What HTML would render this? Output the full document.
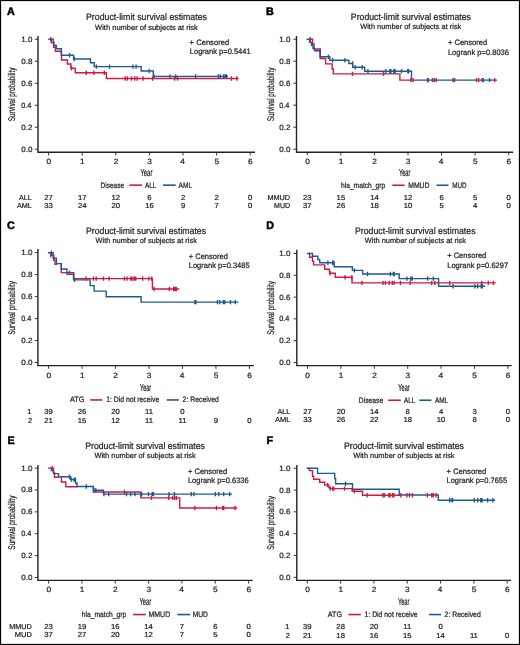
<!DOCTYPE html>
<html><head><meta charset="utf-8"><style>
html,body{margin:0;padding:0;background:#fff;}
svg{display:block;will-change:transform;}
text{text-rendering:geometricPrecision;font-family:"Liberation Sans",sans-serif;fill:#222;stroke:#222;stroke-width:0.22px;}
</style></head><body>
<svg width="520" height="645" viewBox="0 0 520 645">
<rect x="0" y="0" width="520" height="645" fill="#fff"/>
<path d="M38.00,36.00V152.30H255.00" fill="none" stroke="#222" stroke-width="1.4"/>
<path d="M34.80,149.20H38.00M34.80,127.22H38.00M34.80,105.24H38.00M34.80,83.26H38.00M34.80,61.28H38.00M34.80,39.30H38.00M48.60,152.30V155.50M82.20,152.30V155.50M115.80,152.30V155.50M149.40,152.30V155.50M183.00,152.30V155.50M216.60,152.30V155.50M250.20,152.30V155.50" fill="none" stroke="#222" stroke-width="0.9"/>
<path d="M129.30,185.15H142.00" stroke="#CC1A44" stroke-width="1.6"/>
<path d="M163.00,185.15H175.70" stroke="#1E5A91" stroke-width="1.6"/>
<path d="M51.40,42.90H53.60M53.60,47.30H55.40M55.40,51.30H61.50M61.50,60.00H67.40M67.40,64.00H70.90M70.90,68.30H75.20M75.20,72.70H106.40M106.40,78.50H237.90M51.40,39.20V42.90M53.60,42.90V47.30M55.40,47.30V51.30M61.50,51.30V60.00M67.40,60.00V64.00M70.90,64.00V68.30M75.20,68.30V72.70M106.40,72.70V78.50" fill="none" stroke="#CC1A44" stroke-width="1.4" stroke-linecap="square"/>
<path d="M48.90,39.20H53.30M53.30,42.20H53.90M53.90,45.50H56.40M56.40,48.80H61.30M61.30,55.30H73.60M73.60,59.00H90.50M90.50,62.70H94.20M94.20,66.60H141.20M141.20,71.00H153.30M153.30,76.40H227.30M53.30,39.20V42.20M53.90,42.20V45.50M56.40,45.50V48.80M61.30,48.80V55.30M73.60,55.30V59.00M90.50,59.00V62.70M94.20,62.70V66.60M141.20,66.60V71.00M153.30,71.00V76.40" fill="none" stroke="#1E5A91" stroke-width="1.4" stroke-linecap="square"/>
<path d="M296.50,36.00V152.20H513.10" fill="none" stroke="#222" stroke-width="1.4"/>
<path d="M293.30,149.20H296.50M293.30,127.20H296.50M293.30,105.20H296.50M293.30,83.20H296.50M293.30,61.20H296.50M293.30,39.20H296.50M307.30,152.20V155.40M340.87,152.20V155.40M374.43,152.20V155.40M408.00,152.20V155.40M441.57,152.20V155.40M475.13,152.20V155.40M508.70,152.20V155.40" fill="none" stroke="#222" stroke-width="0.9"/>
<path d="M392.30,185.25H404.60" stroke="#CC1A44" stroke-width="1.6"/>
<path d="M436.60,185.25H448.50" stroke="#1E5A91" stroke-width="1.6"/>
<path d="M309.50,39.20H312.60M312.60,44.00H314.00M314.00,49.00H320.30M320.30,58.50H325.60M325.60,63.90H332.20M332.20,69.00H333.30M333.30,73.90H399.90M399.90,80.10H411.50M490.80,80.10H496.40M312.60,39.20V44.00M314.00,44.00V49.00M320.30,49.00V58.50M325.60,58.50V63.90M332.20,63.90V69.00M333.30,69.00V73.90M399.90,73.90V80.10" fill="none" stroke="#CC1A44" stroke-width="1.4" stroke-linecap="square"/>
<path d="M307.30,39.20H309.50M309.50,42.20H311.50M311.50,45.20H313.00M313.00,48.20H314.50M314.50,50.80H320.00M320.00,56.80H329.80M329.80,60.30H348.80M348.80,63.50H352.70M352.70,67.20H364.70M364.70,71.30H411.50M411.50,80.10H490.80M309.50,39.20V42.20M311.50,42.20V45.20M313.00,45.20V48.20M314.50,48.20V50.80M320.00,50.80V56.80M329.80,56.80V60.30M348.80,60.30V63.50M352.70,63.50V67.20M364.70,67.20V71.30M411.50,71.30V80.10" fill="none" stroke="#1E5A91" stroke-width="1.4" stroke-linecap="square"/>
<path d="M37.90,249.10V365.60H253.80" fill="none" stroke="#222" stroke-width="1.4"/>
<path d="M34.70,362.50H37.90M34.70,340.54H37.90M34.70,318.58H37.90M34.70,296.62H37.90M34.70,274.66H37.90M34.70,252.70H37.90M48.60,365.60V368.80M82.07,365.60V368.80M115.53,365.60V368.80M149.00,365.60V368.80M182.47,365.60V368.80M215.93,365.60V368.80M249.40,365.60V368.80" fill="none" stroke="#222" stroke-width="0.9"/>
<path d="M90.20,399.95H102.30" stroke="#CC1A44" stroke-width="1.6"/>
<path d="M166.90,399.95H178.90" stroke="#1E5A91" stroke-width="1.6"/>
<path d="M50.80,255.30H53.80M53.80,260.30H55.00M55.00,264.20H56.40M61.30,272.60H73.80M73.80,278.60H152.40M152.40,289.00H178.70M50.80,252.70V255.30M53.80,255.30V260.30M55.00,260.30V264.20M61.30,264.20V272.60M73.80,272.60V278.60M152.40,278.60V289.00" fill="none" stroke="#CC1A44" stroke-width="1.4" stroke-linecap="square"/>
<path d="M48.60,252.70H53.10M53.10,258.20H56.40M56.40,263.60H61.30M61.30,269.00H66.90M66.90,274.30H73.50M73.50,279.90H90.10M90.10,285.60H94.10M94.10,291.10H106.20M106.20,296.70H141.10M141.10,302.10H237.60M53.10,252.70V258.20M56.40,258.20V263.60M61.30,263.60V269.00M66.90,269.00V274.30M73.50,274.30V279.90M90.10,279.90V285.60M94.10,285.60V291.10M106.20,291.10V296.70M141.10,296.70V302.10" fill="none" stroke="#1E5A91" stroke-width="1.4" stroke-linecap="square"/>
<path d="M296.80,249.80V365.60H511.50" fill="none" stroke="#222" stroke-width="1.4"/>
<path d="M293.60,362.50H296.80M293.60,340.70H296.80M293.60,318.90H296.80M293.60,297.10H296.80M293.60,275.30H296.80M293.60,253.50H296.80M307.50,365.60V368.80M340.90,365.60V368.80M374.30,365.60V368.80M407.70,365.60V368.80M441.10,365.60V368.80M474.50,365.60V368.80M507.90,365.60V368.80" fill="none" stroke="#222" stroke-width="0.9"/>
<path d="M388.20,400.25H400.80" stroke="#CC1A44" stroke-width="1.6"/>
<path d="M419.30,400.25H431.40" stroke="#1E5A91" stroke-width="1.6"/>
<path d="M309.60,257.30H312.50M312.50,261.20H313.60M313.60,264.90H324.70M324.70,269.30H329.50M329.50,273.30H335.30M335.30,277.20H352.00M352.00,282.90H495.00M309.60,253.50V257.30M312.50,257.30V261.20M313.60,261.20V264.90M324.70,264.90V269.30M329.50,269.30V273.30M335.30,273.30V277.20M352.00,277.20V282.90" fill="none" stroke="#CC1A44" stroke-width="1.4" stroke-linecap="square"/>
<path d="M307.50,253.50H312.50M312.50,256.30H317.80M317.80,259.50H319.70M319.70,262.80H334.20M334.20,266.80H352.40M352.40,270.40H362.70M362.70,274.00H399.20M399.20,278.60H438.60M438.60,286.30H484.40M312.50,253.50V256.30M317.80,256.30V259.50M319.70,259.50V262.80M334.20,262.80V266.80M352.40,266.80V270.40M362.70,270.40V274.00M399.20,274.00V278.60M438.60,278.60V286.30" fill="none" stroke="#1E5A91" stroke-width="1.4" stroke-linecap="square"/>
<path d="M37.90,465.00V580.40H252.70" fill="none" stroke="#222" stroke-width="1.4"/>
<path d="M34.70,577.50H37.90M34.70,555.62H37.90M34.70,533.74H37.90M34.70,511.86H37.90M34.70,489.98H37.90M34.70,468.10H37.90M48.60,580.40V583.60M81.93,580.40V583.60M115.27,580.40V583.60M148.60,580.40V583.60M181.93,580.40V583.60M215.27,580.40V583.60M248.60,580.40V583.60" fill="none" stroke="#222" stroke-width="0.9"/>
<path d="M133.10,614.55H145.80" stroke="#CC1A44" stroke-width="1.6"/>
<path d="M177.40,614.55H190.10" stroke="#1E5A91" stroke-width="1.6"/>
<path d="M51.30,468.10H53.50M53.50,472.70H54.50M54.50,477.30H58.50M61.40,482.00H65.80M65.80,486.80H77.00M93.40,492.00H140.80M140.80,497.90H179.70M179.70,508.00H236.60M53.50,468.10V472.70M54.50,472.70V477.30M61.40,477.30V482.00M65.80,482.00V486.80M93.40,486.80V492.00M140.80,492.00V497.90M179.70,497.90V508.00" fill="none" stroke="#CC1A44" stroke-width="1.4" stroke-linecap="square"/>
<path d="M48.60,468.10H51.30M51.30,470.60H53.50M53.50,473.60H58.50M58.50,476.80H70.50M70.50,479.60H75.60M75.60,483.30H77.00M77.00,486.50H93.40M93.40,490.30H103.50M103.50,494.10H231.30M51.30,468.10V470.60M53.50,470.60V473.60M58.50,473.60V476.80M70.50,476.80V479.60M75.60,479.60V483.30M77.00,483.30V486.50M93.40,486.50V490.30M103.50,490.30V494.10" fill="none" stroke="#1E5A91" stroke-width="1.4" stroke-linecap="square"/>
<path d="M296.80,465.00V580.40H511.00" fill="none" stroke="#222" stroke-width="1.4"/>
<path d="M293.60,577.30H296.80M293.60,555.48H296.80M293.60,533.66H296.80M293.60,511.84H296.80M293.60,490.02H296.80M293.60,468.20H296.80M307.30,580.40V583.60M340.62,580.40V583.60M373.93,580.40V583.60M407.25,580.40V583.60M440.57,580.40V583.60M473.88,580.40V583.60M507.20,580.40V583.60" fill="none" stroke="#222" stroke-width="0.9"/>
<path d="M348.50,614.55H360.70" stroke="#CC1A44" stroke-width="1.6"/>
<path d="M429.10,614.55H441.20" stroke="#1E5A91" stroke-width="1.6"/>
<path d="M309.30,470.60H312.50M312.50,476.20H313.60M313.60,479.30H319.70M319.70,482.20H324.70M324.70,485.10H328.90M328.90,487.80H330.30M330.30,488.60H352.20M352.20,491.20H362.50M362.50,495.20H399.20M309.30,468.20V470.60M312.50,470.60V476.20M313.60,476.20V479.30M319.70,479.30V482.20M324.70,482.20V485.10M328.90,485.10V487.80M330.30,487.80V488.60M352.20,488.60V491.20M362.50,491.20V495.20" fill="none" stroke="#CC1A44" stroke-width="1.4" stroke-linecap="square"/>
<path d="M307.30,468.20H317.60M317.60,473.40H334.70M334.70,478.60H335.60M335.60,483.70H352.50M352.50,489.20H399.20M399.20,495.00H438.30M438.30,500.20H494.40M317.60,468.20V473.40M334.70,473.40V478.60M335.60,478.60V483.70M352.50,483.70V489.20M399.20,489.20V495.00M438.30,495.00V500.20" fill="none" stroke="#1E5A91" stroke-width="1.4" stroke-linecap="square"/>
<path d="M50.80,37.00V41.40M71.50,66.10V70.50M86.30,70.50V74.90M93.90,70.50V74.90M104.30,70.50V74.90M125.20,76.30V80.70M127.30,76.30V80.70M131.50,76.30V80.70M134.70,76.30V80.70M137.10,76.30V80.70M143.10,76.30V80.70M152.60,76.30V80.70M174.60,76.30V80.70M177.60,76.30V80.70M231.50,76.30V80.70M236.80,76.30V80.70" fill="none" stroke="#CC1A44" stroke-width="1.35"/>
<path d="M69.60,53.10V57.50M74.30,56.80V61.20M96.30,64.40V68.80M109.50,64.40V68.80M132.90,64.40V68.80M136.10,64.40V68.80M149.20,68.80V73.20M154.00,74.20V78.60M169.90,74.20V78.60M175.70,74.20V78.60M195.60,74.20V78.60M218.30,74.20V78.60M220.40,74.20V78.60M223.60,74.20V78.60M225.20,74.20V78.60M226.50,74.20V78.60" fill="none" stroke="#1E5A91" stroke-width="1.35"/>
<path d="M310.30,37.00V41.40M352.50,71.70V76.10M383.50,71.70V76.10M411.00,77.90V82.30M413.10,77.90V82.30M427.60,77.90V82.30M432.40,77.90V82.30M436.10,77.90V82.30M453.00,77.90V82.30M476.50,77.90V82.30M478.70,77.90V82.30M482.10,77.90V82.30M494.70,77.90V82.30" fill="none" stroke="#CC1A44" stroke-width="1.35"/>
<path d="M328.40,54.60V59.00M332.60,58.10V62.50M344.90,58.10V62.50M352.60,61.30V65.70M355.20,65.00V69.40M362.20,65.00V69.40M367.90,69.10V73.50M385.60,69.10V73.50M389.80,69.10V73.50M390.90,69.10V73.50M393.80,69.10V73.50M395.10,69.10V73.50M401.50,69.10V73.50M407.80,69.10V73.50M408.70,69.10V73.50M428.40,77.90V82.30M434.30,77.90V82.30M454.60,77.90V82.30M483.40,77.90V82.30M489.50,77.90V82.30" fill="none" stroke="#1E5A91" stroke-width="1.35"/>
<path d="M50.80,253.10V257.50M69.50,270.40V274.80M86.00,276.40V280.80M93.50,276.40V280.80M96.20,276.40V280.80M103.50,276.40V280.80M109.10,276.40V280.80M124.40,276.40V280.80M127.10,276.40V280.80M130.80,276.40V280.80M132.10,276.40V280.80M134.00,276.40V280.80M134.80,276.40V280.80M135.80,276.40V280.80M142.70,276.40V280.80M148.80,276.40V280.80M151.70,276.40V280.80M154.10,286.80V291.20M169.40,286.80V291.20M173.60,286.80V291.20M175.00,286.80V291.20M176.30,286.80V291.20" fill="none" stroke="#CC1A44" stroke-width="1.35"/>
<path d="M51.50,250.50V254.90M74.60,277.70V282.10M194.80,299.90V304.30M195.90,299.90V304.30M217.40,299.90V304.30M219.70,299.90V304.30M223.30,299.90V304.30M224.70,299.90V304.30M230.50,299.90V304.30M235.20,299.90V304.30" fill="none" stroke="#1E5A91" stroke-width="1.35"/>
<path d="M330.00,271.10V275.50M345.10,275.00V279.40M351.90,275.00V279.40M361.90,280.70V285.10M383.00,280.70V285.10M385.40,280.70V285.10M389.20,280.70V285.10M392.30,280.70V285.10M394.20,280.70V285.10M400.50,280.70V285.10M410.10,280.70V285.10M431.70,280.70V285.10M434.90,280.70V285.10M449.70,280.70V285.10M481.70,280.70V285.10M488.30,280.70V285.10M493.40,280.70V285.10" fill="none" stroke="#CC1A44" stroke-width="1.35"/>
<path d="M327.90,260.60V265.00M332.60,260.60V265.00M333.70,260.60V265.00M354.40,268.20V272.60M367.50,271.80V276.20M390.40,271.80V276.20M393.40,271.80V276.20M394.20,271.80V276.20M406.90,276.40V280.80M410.80,276.40V280.80M412.20,276.40V280.80M427.70,276.40V280.80M433.30,276.40V280.80M453.00,284.10V288.50M474.90,284.10V288.50M477.70,284.10V288.50M481.20,284.10V288.50M482.30,284.10V288.50" fill="none" stroke="#1E5A91" stroke-width="1.35"/>
<path d="M52.20,465.90V470.30M124.40,489.80V494.20M151.40,495.70V500.10M168.60,495.70V500.10M172.80,495.70V500.10M174.70,495.70V500.10M176.50,495.70V500.10M194.80,505.80V510.20M216.50,505.80V510.20M222.60,505.80V510.20M223.70,505.80V510.20M235.00,505.80V510.20" fill="none" stroke="#CC1A44" stroke-width="1.35"/>
<path d="M69.50,474.60V479.00M71.50,477.40V481.80M74.10,477.40V481.80M75.30,477.40V481.80M86.30,484.30V488.70M93.80,488.10V492.50M95.80,488.10V492.50M103.90,491.90V496.30M108.80,491.90V496.30M126.50,491.90V496.30M130.70,491.90V496.30M135.00,491.90V496.30M141.60,491.90V496.30M148.50,491.90V496.30M152.20,491.90V496.30M153.50,491.90V496.30M169.10,491.90V496.30M174.40,491.90V496.30M191.30,491.90V496.30M194.00,491.90V496.30M215.40,491.90V496.30M218.80,491.90V496.30M223.70,491.90V496.30M229.70,491.90V496.30" fill="none" stroke="#1E5A91" stroke-width="1.35"/>
<path d="M327.60,482.90V487.30M330.30,486.40V490.80M332.80,486.40V490.80M333.80,486.40V490.80M344.50,486.40V490.80M354.40,489.00V493.40M367.10,493.00V497.40M382.80,493.00V497.40M384.40,493.00V497.40M388.90,493.00V497.40M390.00,493.00V497.40M392.50,493.00V497.40M393.90,493.00V497.40M400.80,493.00V497.40M406.90,493.00V497.40M409.50,493.00V497.40M412.50,493.00V497.40M427.30,493.00V497.40M431.70,493.00V497.40M433.30,493.00V497.40M436.00,493.00V497.40" fill="none" stroke="#CC1A44" stroke-width="1.35"/>
<path d="M345.50,481.50V485.90M449.70,498.00V502.40M451.90,498.00V502.40M452.60,498.00V502.40M474.30,498.00V502.40M477.70,498.00V502.40M480.70,498.00V502.40M482.00,498.00V502.40M487.60,498.00V502.40M492.90,498.00V502.40" fill="none" stroke="#1E5A91" stroke-width="1.35"/>
<text transform="translate(7.00,14.60)" font-size="10.76" font-weight="bold" style="fill:#000;stroke:#000;stroke-width:0.5px">A</text>
<text transform="translate(86.00,20.20) scale(0.9299,1)" font-size="9.45">Product-limit survival estimates</text>
<text transform="translate(95.10,29.50) scale(0.9961,1)" font-size="7.56">With number of subjects at risk</text>
<text transform="translate(189.60,44.60) scale(0.9701,1)" font-size="7.85">+ Censored</text>
<text transform="translate(189.80,54.30) scale(0.9589,1)" font-size="7.85">Logrank p=0.5441</text>
<text transform="translate(14.80,0) rotate(-90) translate(-121.15,0) scale(0.6562,1)" font-size="9.74">Survival probability</text>
<text transform="translate(21.20,151.70) scale(1.0469,1)" font-size="7.7">0.0</text>
<text transform="translate(21.20,129.72) scale(1.0469,1)" font-size="7.7">0.2</text>
<text transform="translate(21.20,107.74) scale(0.9552,1)" font-size="7.7">0.4</text>
<text transform="translate(21.20,85.76) scale(1.0469,1)" font-size="7.7">0.6</text>
<text transform="translate(21.20,63.78) scale(1.0469,1)" font-size="7.7">0.8</text>
<text transform="translate(21.20,41.80) scale(1.0469,1)" font-size="7.7">1.0</text>
<text transform="translate(46.44,163.80) scale(1.0800,1)" font-size="7.7">0</text>
<text transform="translate(80.04,163.80) scale(1.0800,1)" font-size="7.7">1</text>
<text transform="translate(113.64,163.80) scale(1.0800,1)" font-size="7.7">2</text>
<text transform="translate(147.24,163.80) scale(1.0800,1)" font-size="7.7">3</text>
<text transform="translate(180.30,163.80) scale(1.0800,1)" font-size="7.7">4</text>
<text transform="translate(214.44,163.80) scale(1.0800,1)" font-size="7.7">5</text>
<text transform="translate(248.04,163.80) scale(1.0800,1)" font-size="7.7">6</text>
<text transform="translate(140.50,175.60) scale(0.5801,1)" font-size="10.1">Year</text>
<text transform="translate(100.60,187.50) scale(0.8248,1)" font-size="7.85">Disease</text>
<text transform="translate(145.10,187.50) scale(0.8085,1)" font-size="7.85">ALL</text>
<text transform="translate(178.60,187.50) scale(0.8350,1)" font-size="7.85">AML</text>
<text transform="translate(19.00,199.90) scale(0.9855,1)" font-size="7.27">ALL</text>
<text transform="translate(44.34,199.90) scale(1.0600,1)" font-size="7.27">27</text>
<text transform="translate(77.94,199.90) scale(1.0600,1)" font-size="7.27">17</text>
<text transform="translate(111.54,199.90) scale(1.0600,1)" font-size="7.27">12</text>
<text transform="translate(147.28,199.90) scale(1.0600,1)" font-size="7.27">6</text>
<text transform="translate(180.88,199.90) scale(1.0600,1)" font-size="7.27">2</text>
<text transform="translate(214.48,199.90) scale(1.0600,1)" font-size="7.27">2</text>
<text transform="translate(248.08,199.90) scale(1.0600,1)" font-size="7.27">0</text>
<text transform="translate(16.90,207.90) scale(0.9934,1)" font-size="7.27">AML</text>
<text transform="translate(44.34,207.90) scale(1.0600,1)" font-size="7.27">33</text>
<text transform="translate(77.94,207.90) scale(1.0600,1)" font-size="7.27">24</text>
<text transform="translate(111.54,207.90) scale(1.0600,1)" font-size="7.27">20</text>
<text transform="translate(145.14,207.90) scale(1.0600,1)" font-size="7.27">16</text>
<text transform="translate(180.88,207.90) scale(1.0600,1)" font-size="7.27">9</text>
<text transform="translate(214.48,207.90) scale(1.0600,1)" font-size="7.27">7</text>
<text transform="translate(248.08,207.90) scale(1.0600,1)" font-size="7.27">0</text>
<text transform="translate(266.00,15.00)" font-size="10.76" font-weight="bold" style="fill:#000;stroke:#000;stroke-width:0.5px">B</text>
<text transform="translate(350.85,20.00) scale(0.9230,1)" font-size="9.45">Product-limit survival estimates</text>
<text transform="translate(360.20,29.20) scale(0.9797,1)" font-size="7.56">With number of subjects at risk</text>
<text transform="translate(447.90,44.80) scale(0.9652,1)" font-size="7.85">+ Censored</text>
<text transform="translate(447.90,54.50) scale(0.9626,1)" font-size="7.85">Logrank p=0.8036</text>
<text transform="translate(274.10,0) rotate(-90) translate(-121.15,0) scale(0.6562,1)" font-size="9.74">Survival probability</text>
<text transform="translate(279.20,151.70) scale(1.0469,1)" font-size="7.7">0.0</text>
<text transform="translate(279.20,129.70) scale(1.0469,1)" font-size="7.7">0.2</text>
<text transform="translate(279.20,107.70) scale(0.9552,1)" font-size="7.7">0.4</text>
<text transform="translate(279.20,85.70) scale(1.0469,1)" font-size="7.7">0.6</text>
<text transform="translate(279.20,63.70) scale(1.0469,1)" font-size="7.7">0.8</text>
<text transform="translate(279.20,41.70) scale(1.0469,1)" font-size="7.7">1.0</text>
<text transform="translate(305.14,163.70) scale(1.0800,1)" font-size="7.7">0</text>
<text transform="translate(338.71,163.70) scale(1.0800,1)" font-size="7.7">1</text>
<text transform="translate(372.27,163.70) scale(1.0800,1)" font-size="7.7">2</text>
<text transform="translate(405.84,163.70) scale(1.0800,1)" font-size="7.7">3</text>
<text transform="translate(438.87,163.70) scale(1.0800,1)" font-size="7.7">4</text>
<text transform="translate(472.97,163.70) scale(1.0800,1)" font-size="7.7">5</text>
<text transform="translate(506.54,163.70) scale(1.0800,1)" font-size="7.7">6</text>
<text transform="translate(398.90,175.50) scale(0.5658,1)" font-size="10.1">Year</text>
<text transform="translate(341.00,187.60) scale(0.8510,1)" font-size="7.85">hla_match_grp</text>
<text transform="translate(408.20,187.60) scale(0.8693,1)" font-size="7.85">MMUD</text>
<text transform="translate(452.30,187.60) scale(0.8023,1)" font-size="7.85">MUD</text>
<text transform="translate(267.40,199.50) scale(1.0066,1)" font-size="7.27">MMUD</text>
<text transform="translate(303.04,199.50) scale(1.0600,1)" font-size="7.27">23</text>
<text transform="translate(336.61,199.50) scale(1.0600,1)" font-size="7.27">15</text>
<text transform="translate(370.17,199.50) scale(1.0600,1)" font-size="7.27">14</text>
<text transform="translate(403.74,199.50) scale(1.0600,1)" font-size="7.27">12</text>
<text transform="translate(439.45,199.50) scale(1.0600,1)" font-size="7.27">6</text>
<text transform="translate(473.01,199.50) scale(1.0600,1)" font-size="7.27">5</text>
<text transform="translate(506.58,199.50) scale(1.0600,1)" font-size="7.27">0</text>
<text transform="translate(274.10,207.60) scale(0.9694,1)" font-size="7.27">MUD</text>
<text transform="translate(303.04,207.60) scale(1.0600,1)" font-size="7.27">37</text>
<text transform="translate(336.61,207.60) scale(1.0600,1)" font-size="7.27">26</text>
<text transform="translate(370.17,207.60) scale(1.0600,1)" font-size="7.27">18</text>
<text transform="translate(403.74,207.60) scale(1.0600,1)" font-size="7.27">10</text>
<text transform="translate(439.45,207.60) scale(1.0600,1)" font-size="7.27">5</text>
<text transform="translate(473.01,207.60) scale(1.0600,1)" font-size="7.27">4</text>
<text transform="translate(506.58,207.60) scale(1.0600,1)" font-size="7.27">0</text>
<text transform="translate(7.00,228.50)" font-size="10.76" font-weight="bold" style="fill:#000;stroke:#000;stroke-width:0.5px">C</text>
<text transform="translate(86.00,234.10) scale(0.9230,1)" font-size="9.45">Product-limit survival estimates</text>
<text transform="translate(95.60,243.10) scale(0.9816,1)" font-size="7.56">With number of subjects at risk</text>
<text transform="translate(188.70,258.50) scale(0.9627,1)" font-size="7.85">+ Censored</text>
<text transform="translate(188.70,267.80) scale(0.9611,1)" font-size="7.85">Logrank p=0.3485</text>
<text transform="translate(14.80,0) rotate(-90) translate(-334.70,0) scale(0.6562,1)" font-size="9.74">Survival probability</text>
<text transform="translate(21.20,365.00) scale(1.0469,1)" font-size="7.7">0.0</text>
<text transform="translate(21.20,343.04) scale(1.0469,1)" font-size="7.7">0.2</text>
<text transform="translate(21.20,321.08) scale(0.9552,1)" font-size="7.7">0.4</text>
<text transform="translate(21.20,299.12) scale(1.0469,1)" font-size="7.7">0.6</text>
<text transform="translate(21.20,277.16) scale(1.0469,1)" font-size="7.7">0.8</text>
<text transform="translate(21.20,255.20) scale(1.0469,1)" font-size="7.7">1.0</text>
<text transform="translate(46.44,377.80) scale(1.0800,1)" font-size="7.7">0</text>
<text transform="translate(79.91,377.80) scale(1.0800,1)" font-size="7.7">1</text>
<text transform="translate(113.37,377.80) scale(1.0800,1)" font-size="7.7">2</text>
<text transform="translate(146.84,377.80) scale(1.0800,1)" font-size="7.7">3</text>
<text transform="translate(179.77,377.80) scale(1.0800,1)" font-size="7.7">4</text>
<text transform="translate(213.77,377.80) scale(1.0800,1)" font-size="7.7">5</text>
<text transform="translate(247.24,377.80) scale(1.0800,1)" font-size="7.7">6</text>
<text transform="translate(140.00,390.80) scale(0.5468,1)" font-size="10.1">Year</text>
<text transform="translate(70.00,402.30) scale(0.9326,1)" font-size="7.85">ATG</text>
<text transform="translate(106.20,402.30) scale(0.8691,1)" font-size="7.85">1: Did not receive</text>
<text transform="translate(182.60,402.30) scale(0.8744,1)" font-size="7.85">2: Received</text>
<text transform="translate(27.30,414.40)" font-size="7.27">1</text>
<text transform="translate(44.34,414.40) scale(1.0600,1)" font-size="7.27">39</text>
<text transform="translate(77.81,414.40) scale(1.0600,1)" font-size="7.27">26</text>
<text transform="translate(111.27,414.40) scale(1.0600,1)" font-size="7.27">20</text>
<text transform="translate(145.02,414.40) scale(1.0600,1)" font-size="7.27">11</text>
<text transform="translate(180.35,414.40) scale(1.0600,1)" font-size="7.27">0</text>
<text transform="translate(27.90,422.70)" font-size="7.27">2</text>
<text transform="translate(44.34,422.70) scale(1.0600,1)" font-size="7.27">21</text>
<text transform="translate(77.81,422.70) scale(1.0600,1)" font-size="7.27">15</text>
<text transform="translate(111.27,422.70) scale(1.0600,1)" font-size="7.27">12</text>
<text transform="translate(145.02,422.70) scale(1.0600,1)" font-size="7.27">11</text>
<text transform="translate(178.49,422.70) scale(1.0600,1)" font-size="7.27">11</text>
<text transform="translate(213.81,422.70) scale(1.0600,1)" font-size="7.27">9</text>
<text transform="translate(247.28,422.70) scale(1.0600,1)" font-size="7.27">0</text>
<text transform="translate(266.20,228.50)" font-size="10.76" font-weight="bold" style="fill:#000;stroke:#000;stroke-width:0.5px">D</text>
<text transform="translate(355.00,234.10) scale(0.9268,1)" font-size="9.45">Product-limit survival estimates</text>
<text transform="translate(364.80,243.10) scale(0.9806,1)" font-size="7.56">With number of subjects at risk</text>
<text transform="translate(447.20,258.40) scale(0.9577,1)" font-size="7.85">+ Censored</text>
<text transform="translate(447.20,267.50) scale(0.9604,1)" font-size="7.85">Logrank p=0.6297</text>
<text transform="translate(274.10,0) rotate(-90) translate(-334.70,0) scale(0.6562,1)" font-size="9.74">Survival probability</text>
<text transform="translate(279.20,365.00) scale(1.0469,1)" font-size="7.7">0.0</text>
<text transform="translate(279.20,343.20) scale(1.0469,1)" font-size="7.7">0.2</text>
<text transform="translate(279.20,321.40) scale(0.9552,1)" font-size="7.7">0.4</text>
<text transform="translate(279.20,299.60) scale(1.0469,1)" font-size="7.7">0.6</text>
<text transform="translate(279.20,277.80) scale(1.0469,1)" font-size="7.7">0.8</text>
<text transform="translate(279.20,256.00) scale(1.0469,1)" font-size="7.7">1.0</text>
<text transform="translate(305.34,377.80) scale(1.0800,1)" font-size="7.7">0</text>
<text transform="translate(338.74,377.80) scale(1.0800,1)" font-size="7.7">1</text>
<text transform="translate(372.14,377.80) scale(1.0800,1)" font-size="7.7">2</text>
<text transform="translate(405.54,377.80) scale(1.0800,1)" font-size="7.7">3</text>
<text transform="translate(438.40,377.80) scale(1.0800,1)" font-size="7.7">4</text>
<text transform="translate(472.34,377.80) scale(1.0800,1)" font-size="7.7">5</text>
<text transform="translate(505.74,377.80) scale(1.0800,1)" font-size="7.7">6</text>
<text transform="translate(398.20,390.80) scale(0.5658,1)" font-size="10.1">Year</text>
<text transform="translate(358.80,402.60) scale(0.8593,1)" font-size="7.85">Disease</text>
<text transform="translate(404.10,402.60) scale(0.8017,1)" font-size="7.85">ALL</text>
<text transform="translate(434.90,402.60) scale(0.8231,1)" font-size="7.85">AML</text>
<text transform="translate(277.50,414.10) scale(0.9933,1)" font-size="7.27">ALL</text>
<text transform="translate(303.24,414.10) scale(1.0600,1)" font-size="7.27">27</text>
<text transform="translate(336.64,414.10) scale(1.0600,1)" font-size="7.27">20</text>
<text transform="translate(370.04,414.10) scale(1.0600,1)" font-size="7.27">14</text>
<text transform="translate(405.58,414.10) scale(1.0600,1)" font-size="7.27">8</text>
<text transform="translate(438.98,414.10) scale(1.0600,1)" font-size="7.27">4</text>
<text transform="translate(472.38,414.10) scale(1.0600,1)" font-size="7.27">3</text>
<text transform="translate(505.78,414.10) scale(1.0600,1)" font-size="7.27">0</text>
<text transform="translate(275.10,422.20) scale(1.0202,1)" font-size="7.27">AML</text>
<text transform="translate(303.24,422.20) scale(1.0600,1)" font-size="7.27">33</text>
<text transform="translate(336.64,422.20) scale(1.0600,1)" font-size="7.27">26</text>
<text transform="translate(370.04,422.20) scale(1.0600,1)" font-size="7.27">22</text>
<text transform="translate(403.44,422.20) scale(1.0600,1)" font-size="7.27">18</text>
<text transform="translate(436.84,422.20) scale(1.0600,1)" font-size="7.27">10</text>
<text transform="translate(472.38,422.20) scale(1.0600,1)" font-size="7.27">8</text>
<text transform="translate(505.78,422.20) scale(1.0600,1)" font-size="7.27">0</text>
<text transform="translate(7.60,443.80)" font-size="10.76" font-weight="bold" style="fill:#000;stroke:#000;stroke-width:0.5px">E</text>
<text transform="translate(85.20,449.10) scale(0.9207,1)" font-size="9.45">Product-limit survival estimates</text>
<text transform="translate(94.40,458.10) scale(0.9826,1)" font-size="7.56">With number of subjects at risk</text>
<text transform="translate(187.90,473.50) scale(0.9652,1)" font-size="7.85">+ Censored</text>
<text transform="translate(187.90,482.80) scale(0.9579,1)" font-size="7.85">Logrank p=0.6336</text>
<text transform="translate(14.80,0) rotate(-90) translate(-549.65,0) scale(0.6611,1)" font-size="9.74">Survival probability</text>
<text transform="translate(21.20,580.00) scale(1.0469,1)" font-size="7.7">0.0</text>
<text transform="translate(21.20,558.12) scale(1.0469,1)" font-size="7.7">0.2</text>
<text transform="translate(21.20,536.24) scale(0.9552,1)" font-size="7.7">0.4</text>
<text transform="translate(21.20,514.36) scale(1.0469,1)" font-size="7.7">0.6</text>
<text transform="translate(21.20,492.48) scale(1.0469,1)" font-size="7.7">0.8</text>
<text transform="translate(21.20,470.60) scale(1.0469,1)" font-size="7.7">1.0</text>
<text transform="translate(46.44,592.00) scale(1.0800,1)" font-size="7.7">0</text>
<text transform="translate(79.77,592.00) scale(1.0800,1)" font-size="7.7">1</text>
<text transform="translate(113.11,592.00) scale(1.0800,1)" font-size="7.7">2</text>
<text transform="translate(146.44,592.00) scale(1.0800,1)" font-size="7.7">3</text>
<text transform="translate(179.23,592.00) scale(1.0800,1)" font-size="7.7">4</text>
<text transform="translate(213.11,592.00) scale(1.0800,1)" font-size="7.7">5</text>
<text transform="translate(246.44,592.00) scale(1.0800,1)" font-size="7.7">6</text>
<text transform="translate(139.40,604.80) scale(0.5753,1)" font-size="10.1">Year</text>
<text transform="translate(81.80,616.90) scale(0.8548,1)" font-size="7.85">hla_match_grp</text>
<text transform="translate(148.50,616.90) scale(0.8895,1)" font-size="7.85">MMUD</text>
<text transform="translate(192.70,616.90) scale(0.8517,1)" font-size="7.85">MUD</text>
<text transform="translate(9.20,629.10) scale(1.0022,1)" font-size="7.27">MMUD</text>
<text transform="translate(44.34,629.10) scale(1.0600,1)" font-size="7.27">23</text>
<text transform="translate(77.67,629.10) scale(1.0600,1)" font-size="7.27">19</text>
<text transform="translate(111.01,629.10) scale(1.0600,1)" font-size="7.27">16</text>
<text transform="translate(144.34,629.10) scale(1.0600,1)" font-size="7.27">14</text>
<text transform="translate(179.81,629.10) scale(1.0600,1)" font-size="7.27">7</text>
<text transform="translate(213.15,629.10) scale(1.0600,1)" font-size="7.27">6</text>
<text transform="translate(246.48,629.10) scale(1.0600,1)" font-size="7.27">0</text>
<text transform="translate(14.80,637.20) scale(1.0307,1)" font-size="7.27">MUD</text>
<text transform="translate(44.34,637.20) scale(1.0600,1)" font-size="7.27">37</text>
<text transform="translate(77.67,637.20) scale(1.0600,1)" font-size="7.27">27</text>
<text transform="translate(111.01,637.20) scale(1.0600,1)" font-size="7.27">20</text>
<text transform="translate(144.34,637.20) scale(1.0600,1)" font-size="7.27">12</text>
<text transform="translate(179.81,637.20) scale(1.0600,1)" font-size="7.27">7</text>
<text transform="translate(213.15,637.20) scale(1.0600,1)" font-size="7.27">5</text>
<text transform="translate(246.48,637.20) scale(1.0600,1)" font-size="7.27">0</text>
<text transform="translate(266.40,443.80)" font-size="10.76" font-weight="bold" style="fill:#000;stroke:#000;stroke-width:0.5px">F</text>
<text transform="translate(344.00,449.10) scale(0.9214,1)" font-size="9.45">Product-limit survival estimates</text>
<text transform="translate(353.20,458.10) scale(0.9826,1)" font-size="7.56">With number of subjects at risk</text>
<text transform="translate(446.50,473.50) scale(0.9751,1)" font-size="7.85">+ Censored</text>
<text transform="translate(446.50,482.80) scale(0.9564,1)" font-size="7.85">Logrank p=0.7655</text>
<text transform="translate(274.10,0) rotate(-90) translate(-549.70,0) scale(0.6562,1)" font-size="9.74">Survival probability</text>
<text transform="translate(279.20,579.80) scale(1.0469,1)" font-size="7.7">0.0</text>
<text transform="translate(279.20,557.98) scale(1.0469,1)" font-size="7.7">0.2</text>
<text transform="translate(279.20,536.16) scale(0.9552,1)" font-size="7.7">0.4</text>
<text transform="translate(279.20,514.34) scale(1.0469,1)" font-size="7.7">0.6</text>
<text transform="translate(279.20,492.52) scale(1.0469,1)" font-size="7.7">0.8</text>
<text transform="translate(279.20,470.70) scale(1.0469,1)" font-size="7.7">1.0</text>
<text transform="translate(305.14,592.00) scale(1.0800,1)" font-size="7.7">0</text>
<text transform="translate(338.46,592.00) scale(1.0800,1)" font-size="7.7">1</text>
<text transform="translate(371.77,592.00) scale(1.0800,1)" font-size="7.7">2</text>
<text transform="translate(405.09,592.00) scale(1.0800,1)" font-size="7.7">3</text>
<text transform="translate(437.87,592.00) scale(1.0800,1)" font-size="7.7">4</text>
<text transform="translate(471.72,592.00) scale(1.0800,1)" font-size="7.7">5</text>
<text transform="translate(505.04,592.00) scale(1.0800,1)" font-size="7.7">6</text>
<text transform="translate(397.90,604.60) scale(0.5658,1)" font-size="10.1">Year</text>
<text transform="translate(327.80,616.90) scale(0.9261,1)" font-size="7.85">ATG</text>
<text transform="translate(364.60,616.90) scale(0.8691,1)" font-size="7.85">1: Did not receive</text>
<text transform="translate(444.60,616.90) scale(0.8719,1)" font-size="7.85">2: Received</text>
<text transform="translate(285.30,629.10)" font-size="7.27">1</text>
<text transform="translate(303.04,629.10) scale(1.0600,1)" font-size="7.27">39</text>
<text transform="translate(336.36,629.10) scale(1.0600,1)" font-size="7.27">28</text>
<text transform="translate(369.67,629.10) scale(1.0600,1)" font-size="7.27">20</text>
<text transform="translate(403.27,629.10) scale(1.0600,1)" font-size="7.27">11</text>
<text transform="translate(438.45,629.10) scale(1.0600,1)" font-size="7.27">0</text>
<text transform="translate(285.80,637.50)" font-size="7.27">2</text>
<text transform="translate(303.04,637.50) scale(1.0600,1)" font-size="7.27">21</text>
<text transform="translate(336.36,637.50) scale(1.0600,1)" font-size="7.27">18</text>
<text transform="translate(369.67,637.50) scale(1.0600,1)" font-size="7.27">16</text>
<text transform="translate(402.99,637.50) scale(1.0600,1)" font-size="7.27">15</text>
<text transform="translate(436.31,637.50) scale(1.0600,1)" font-size="7.27">14</text>
<text transform="translate(469.91,637.50) scale(1.0600,1)" font-size="7.27">11</text>
<text transform="translate(505.08,637.50) scale(1.0600,1)" font-size="7.27">0</text>
<rect x="0.55" y="0.55" width="518.9" height="643.9" fill="none" stroke="#000" stroke-width="1.15"/>
</svg>
</body></html>
